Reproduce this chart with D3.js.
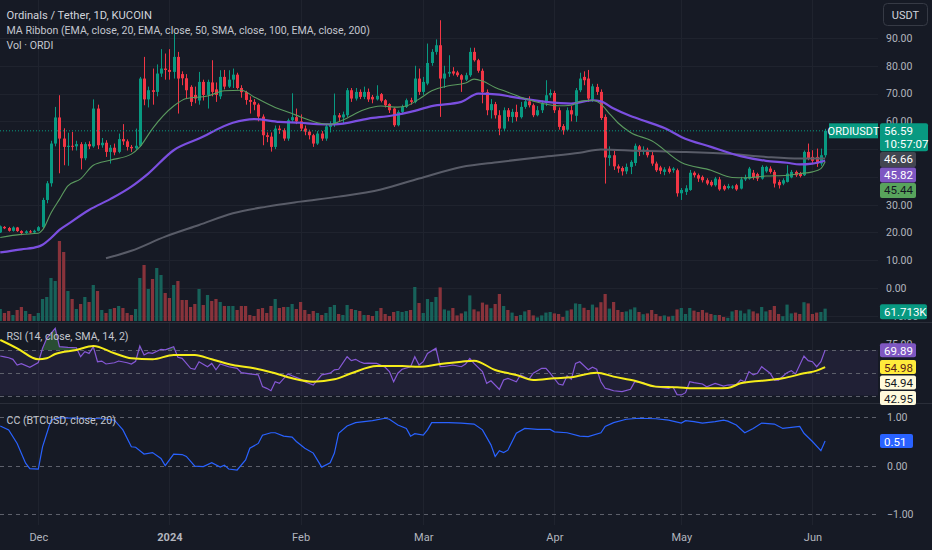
<!DOCTYPE html>
<html><head><meta charset="utf-8">
<script src="https://cdn.jsdelivr.net/npm/d3@7/dist/d3.min.js"></script>
<style>
html,body{margin:0;padding:0;background:#161a25;overflow:hidden}
svg{display:block;font-family:Roboto,"Liberation Sans",sans-serif}
</style></head><body>
<svg id="chart" width="932" height="550"></svg>
<script>
// ---------------- DATA ----------------
const firstDay = "2023-11-22"; // daily candles, one per day
const opens = [20.0,22.0,21.6,20.6,21.8,20.5,19.8,20.4,20.0,20.6,
21.9,31.7,37.7,52.0,61.4,53.8,50.8,51.2,51.0,51.8,
46.7,51.8,51.0,64.6,51.4,52.3,49.0,50.5,49.0,53.6,
52.8,50.8,50.3,51.2,75.4,67.9,71.2,70.6,77.2,79.0,
78.5,77.8,83.2,77.0,75.5,72.4,69.5,67.5,74.2,69.5,
74.0,71.5,69.0,76.0,72.5,75.0,76.8,72.0,70.5,67.7,
67.0,66.0,61.7,55.0,54.5,50.8,57.4,56.8,53.8,60.4,
61.5,60.0,57.4,56.3,55.0,52.0,55.6,53.8,58.0,58.8,
62.2,61.4,62.2,71.2,68.2,70.6,68.8,70.6,68.8,67.9,
69.8,67.6,66.2,64.6,58.6,63.4,65.2,67.6,67.0,75.4,
70.6,73.6,81.0,85.0,87.4,75.4,77.2,78.0,77.6,76.6,
75.0,76.6,85.0,82.0,78.2,70.5,64.0,66.2,62.2,57.4,
64.0,61.6,63.4,61.5,65.2,67.2,65.8,62.2,64.0,66.5,
69.4,70.2,64.0,58.3,57.0,64.0,62.0,71.2,76.0,75.4,
67.8,72.4,70.6,61.6,46.8,47.8,43.8,43.2,42.0,43.6,
45.0,51.0,49.0,49.8,47.8,44.8,43.4,41.8,43.0,42.4,
42.4,34.1,34.6,35.3,41.5,40.6,40.0,38.8,38.2,37.0,
39.1,36.7,36.0,36.2,37.0,35.8,39.1,39.4,41.5,41.0,
39.4,42.0,43.0,41.8,38.2,37.6,38.2,39.8,41.8,41.2,
40.6,49.0,47.2,47.2,44.8,47.8];
const highs = [22.5,22.3,22.0,22.2,22.0,20.8,20.8,20.9,21.0,22.3,
32.5,38.5,53.0,65.2,69.4,57.5,55.9,56.2,53.0,52.5,
52.5,52.8,67.9,66.0,54.0,53.2,51.5,52.0,55.6,59.0,
53.5,51.5,57.4,76.0,83.2,72.5,79.0,80.5,86.0,84.4,
86.0,91.6,85.0,78.0,77.0,73.0,72.5,77.8,75.0,75.0,
82.0,74.0,78.4,78.5,78.4,79.0,77.5,73.0,71.0,69.0,
68.0,66.5,62.5,56.0,56.0,58.5,58.5,57.5,61.0,70.1,
64.6,62.5,58.5,57.0,55.5,56.5,56.5,59.0,60.0,70.0,
63.0,63.5,72.0,72.0,72.0,71.5,72.5,71.8,69.5,73.0,
70.2,68.0,66.5,65.0,64.0,66.0,68.2,68.5,80.0,79.0,
76.0,88.0,86.0,89.5,96.4,80.0,83.8,79.5,78.2,77.0,
77.5,86.5,86.5,82.5,79.0,71.5,68.0,67.0,64.0,65.0,
64.8,64.5,66.0,67.0,68.0,69.0,66.4,65.5,67.5,74.8,
71.5,71.0,65.0,59.0,65.0,65.5,72.0,77.5,78.0,78.5,
73.5,73.5,71.5,62.5,51.0,49.5,44.5,43.8,44.8,46.0,
52.0,51.5,51.0,50.5,49.0,45.5,44.0,43.5,43.8,43.5,
43.0,36.0,37.0,42.5,42.0,41.2,40.5,39.5,38.8,40.0,
40.0,37.2,37.5,37.0,37.5,40.0,40.8,43.6,42.5,41.5,
44.2,44.0,43.8,42.5,39.0,39.5,44.2,42.5,42.3,41.8,
49.5,52.0,49.6,50.2,50.2,57.3];
const lows = [19.8,21.2,20.3,20.3,20.2,19.0,19.5,19.7,19.8,20.4,
21.6,30.5,36.5,51.0,41.3,44.2,44.0,49.5,49.5,42.7,
46.0,50.0,50.5,50.0,50.5,47.2,44.8,47.8,48.5,51.5,
49.5,49.0,49.8,50.8,65.8,65.0,66.0,69.0,76.0,75.0,
75.0,75.4,62.8,73.0,68.0,65.5,66.5,66.0,67.5,64.6,
69.0,67.0,68.0,71.5,72.0,72.0,71.5,68.5,66.0,62.8,
64.0,60.0,51.4,52.5,49.1,50.0,55.5,53.0,53.0,59.5,
59.0,56.5,55.0,53.5,50.8,51.5,53.0,53.0,56.0,58.0,
60.0,59.0,61.5,67.0,67.5,68.0,68.0,67.0,66.5,67.5,
66.8,65.0,63.0,58.0,58.2,62.5,64.8,66.0,66.5,69.5,
69.5,73.0,80.0,84.0,61.6,72.0,76.0,76.5,76.0,70.6,
74.5,76.0,81.5,77.5,66.5,62.2,61.0,61.0,55.0,56.5,
60.0,59.5,60.0,61.0,64.5,65.0,61.5,61.8,63.0,65.5,
68.5,63.0,57.0,55.2,56.5,60.0,59.8,70.5,73.0,67.0,
67.0,69.5,60.5,37.6,44.0,42.5,41.5,40.5,41.0,41.0,
44.0,47.5,48.0,47.0,44.0,41.8,41.0,40.6,41.2,41.5,
32.9,31.7,33.5,35.0,39.8,38.2,38.0,37.0,36.5,36.5,
35.0,35.0,35.5,35.6,35.0,35.5,38.5,39.0,39.0,38.5,
39.0,41.5,41.2,36.2,35.8,37.0,38.0,39.5,40.0,39.8,
40.3,46.0,44.8,43.6,44.0,47.0];
const closes = [22.2,21.5,20.6,21.8,20.5,19.8,20.4,20.0,20.6,21.9,
31.7,37.7,52.0,61.4,53.8,50.8,51.2,51.0,51.8,46.7,
51.8,51.0,64.6,51.4,52.3,49.0,50.5,48.8,53.6,52.8,
50.8,50.3,51.2,75.4,67.9,71.2,70.6,77.2,79.0,78.5,
77.8,83.2,75.4,75.5,71.2,67.0,68.2,74.2,69.5,74.2,
70.6,69.5,76.0,72.5,75.0,76.8,72.0,70.5,67.7,67.0,
66.0,61.7,55.0,54.4,50.8,57.4,56.8,53.8,60.4,61.5,
60.0,57.4,56.3,55.0,52.0,55.6,53.8,58.2,58.8,62.2,
61.4,62.5,71.2,68.2,70.6,68.8,70.6,67.9,67.9,69.2,
67.4,65.8,64.0,58.6,63.4,65.2,67.6,67.0,75.4,70.6,
74.2,81.0,85.0,87.4,75.4,77.2,77.8,77.2,76.6,75.0,
76.6,85.0,82.0,78.2,70.5,64.0,66.2,62.2,57.4,64.0,
61.6,63.4,61.5,65.2,67.2,65.8,62.2,64.0,66.5,69.4,
70.2,64.0,58.0,56.8,64.0,62.5,71.2,75.4,74.8,68.2,
72.6,70.6,61.2,47.0,47.8,43.8,43.0,42.0,43.6,45.4,
51.2,49.0,49.8,47.8,44.8,42.4,42.2,42.7,41.8,43.0,
34.1,35.3,35.9,41.5,40.6,39.4,38.8,37.6,37.0,39.4,
35.5,35.5,36.7,36.5,35.5,39.1,39.8,43.0,39.8,39.4,
43.6,43.6,41.8,37.6,37.0,38.8,41.2,41.8,40.6,40.3,
49.0,46.6,45.8,44.8,47.8,56.59];
const volumesK = [60,40,50,30,55,70,50,35,25,40,
110,120,215,200,400,345,150,110,60,85,
120,95,180,150,55,40,60,65,75,65,
40,30,60,215,280,160,210,265,230,140,
115,180,200,105,105,70,85,160,80,130,
100,110,95,75,75,75,55,75,75,30,
25,60,65,40,75,110,65,70,70,85,
60,95,55,35,50,40,30,40,70,80,
35,30,80,60,55,50,30,30,25,50,
65,35,25,45,50,45,50,55,170,90,
40,110,95,120,168,58,52,65,28,38,
48,128,58,48,92,82,64,85,135,75,
55,42,25,30,48,55,28,18,28,42,
45,38,35,20,52,58,88,85,66,55,
82,68,94,135,62,95,55,45,48,58,
68,45,34,38,55,35,24,28,22,26,
58,65,35,65,52,45,55,42,35,30,
30,20,16,48,55,52,38,58,48,38,
70,48,55,75,35,24,82,38,42,35,
94,88,35,42,45,61.713];

// MA ribbon (at the listed candle indices)
const ema20Idx = [0,5,9,10,12,14,16,19,22,26,31,33,36,41,44,49,53,57,60,65,69,71,75,78,81,86,90,94,96,99,102,106,110,112,114,117,120,124,128,132,135,137,140,142,144,146,149,154,161,168,173,176,181,186,189,192,194,195];
const ema20 = [18.2,19.3,19.7,20.9,27.0,31.9,36.8,39.3,44.2,46.0,48.2,50.8,57.4,65.5,68.2,69.1,71.0,71.2,68.8,65.0,62.8,61.6,59.5,58.9,60.5,64.2,65.5,65.1,65.5,68.0,71.0,72.8,73.8,75.2,74.5,72.2,70.5,68.2,66.5,65.6,65.8,67.2,67.6,66.2,62.8,59.5,56.0,53.0,45.2,42.4,39.8,39.7,40.3,40.6,41.2,41.8,43.0,45.44];
const ema50Idx = [0,5,9,10,12,14,16,21,26,31,35,41,47,55,60,66,71,75,79,87,93,97,102,109,113,118,121,129,135,140,142,145,149,153,157,161,168,175,181,186,189,192,195];
const ema50 = [12.8,13.9,14.9,15.6,18.0,20.9,23.0,28.1,32.0,36.5,41.2,49.6,53.8,59.5,60.8,59.8,59.5,59.0,58.9,61.0,62.2,63.4,65.5,67.0,70.0,69.6,68.8,67.0,66.4,67.6,67.2,64.6,61.9,59.8,57.6,54.4,50.8,47.5,45.8,45.1,44.5,44.8,45.82];
const ema200Idx = [25,31,39,47,55,63,71,80,90,99,109,118,128,137,142,151,161,173,181,189,195];
const ema200 = [10.7,13.4,18.5,22.7,26.9,29.3,31.1,32.9,35.5,39.4,43.6,45.4,47.2,48.7,49.9,49.4,49.0,48.2,47.2,46.6,46.66];

// RSI (14) and its SMA (14)
const rsiIdx = [0,1,2,3,4,5,7,9,10,11,13,14,16,18,19,20,21,22,23,24,25,27,28,30,31,32,33,34,35,36,38,39,41,42,43,45,46,47,49,50,51,52,54,56,57,59,61,62,63,64,65,66,68,69,71,72,74,76,78,79,80,82,83,84,85,86,87,89,91,92,93,94,95,97,98,99,100,101,103,104,105,107,109,110,111,112,114,115,116,118,119,120,122,123,125,126,128,129,130,132,133,134,135,136,137,139,140,141,142,143,144,145,147,149,150,152,153,155,156,158,159,160,161,162,163,164,166,167,169,171,172,174,175,176,177,178,179,180,182,183,184,186,187,188,190,191,192,193,194,195];
const rsi = [64.7,64.0,63.2,61.8,56.8,58.0,54.8,59.0,71.5,80.3,89.1,72.9,72.3,72.0,64.1,68.5,67.0,72.9,59.7,60.3,57.7,58.8,60.3,58.8,57.7,60.0,73.5,65.6,67.6,67.0,70.6,70.2,72.9,63.6,62.7,53.9,53.1,59.7,55.3,58.2,52.6,57.7,55.3,53.9,50.1,49.0,48.1,37.8,36.3,34.2,42.1,40.7,49.0,47.3,44.4,42.1,39.2,48.1,49.6,52.6,53.1,64.1,60.6,61.8,59.7,58.2,58.5,58.2,54.8,51.0,42.1,49.6,53.1,55.3,64.1,56.8,59.7,67.0,71.5,55.3,55.5,56.8,55.3,57.7,62.5,58.2,51.0,40.7,43.0,35.4,43.6,45.1,42.1,48.1,44.4,49.6,53.9,53.9,49.6,40.1,39.2,47.3,44.4,58.2,59.7,52.6,54.8,53.1,42.1,36.3,35.4,34.2,33.4,35.4,42.1,41.3,39.2,37.7,37.2,36.3,37.7,30.8,30.5,32.5,42.1,41.3,40.1,37.7,40.7,38.3,39.2,39.5,43.6,42.1,51.0,48.1,49.6,55.3,49.6,43.6,43.6,50.1,51.9,49.0,64.7,60.6,59.7,55.3,59.7,69.89];
const rsiMaIdx = [0,4,9,11,13,18,22,27,31,36,41,46,50,55,60,65,69,74,79,83,89,95,99,104,109,112,117,122,126,131,135,141,145,150,155,160,164,169,172,175,180,185,190,193,195];
const rsiMa = [78.8,71.5,61.8,62.7,66.5,70.0,73.5,67.1,62.7,61.8,65.6,65.6,61.8,56.8,53.9,49.5,45.1,42.1,44.2,49.5,55.9,55.9,55.3,57.7,59.7,60.6,52.4,48.0,43.6,45.1,46.0,50.1,46.6,43.0,37.8,37.2,36.3,36.3,36.6,40.7,43.0,45.1,49.5,51.9,54.98];
const rsiExtraTags = [54.94, 42.95];

// Correlation coefficient with BTCUSD (20)
const ccIdx = [0,2,4,6,7,9,10,12,14,19,24,27,29,31,32,34,36,38,39,41,43,44,46,48,50,52,53,54,56,58,59,61,62,64,65,67,69,70,72,74,76,78,79,80,82,84,88,91,92,94,96,97,98,100,101,102,106,109,112,114,116,117,118,119,120,122,124,127,130,131,134,137,139,142,143,145,148,151,155,158,161,162,164,166,169,171,172,174,176,178,180,183,185,189,190,192,194,195];
const cc = [0.82,0.74,0.46,0.05,-0.06,-0.07,0.39,0.94,0.99,0.98,0.97,0.94,0.74,0.39,0.38,0.24,0.27,0.15,0.0,0.24,0.23,0.19,-0.01,-0.02,0.06,-0.03,0.01,-0.07,-0.09,0.12,0.36,0.46,0.63,0.68,0.68,0.61,0.59,0.50,0.36,0.26,-0.03,0.06,0.26,0.67,0.82,0.89,0.93,0.98,0.96,0.84,0.77,0.61,0.66,0.63,0.74,0.89,0.89,0.88,0.86,0.74,0.43,0.19,0.31,0.27,0.32,0.67,0.77,0.75,0.75,0.70,0.68,0.61,0.60,0.68,0.81,0.89,0.96,0.98,0.97,0.94,0.88,0.93,0.91,0.88,0.91,0.94,0.92,0.84,0.68,0.77,0.88,0.86,0.77,0.81,0.67,0.50,0.31,0.51];

// axis ticks
const monthTicks = ["2023-12-01","2024-01-01","2024-02-01","2024-03-01","2024-04-01","2024-05-01","2024-06-01"];
const monthLabels = ["Dec","2024","Feb","Mar","Apr","May","Jun"];
const priceGrid = [-10,0,10,20,30,40,50,60,70,80,90];
const priceTicks = [90,80,70,60,30,20,10,0,-10];
const rsiTicks = [75];
const rsiLevels = [70,50,30];
const ccTicks = [1,0,-1];

// ---------------- CHART ----------------
const W = 932, H = 550, PR = 878, DAY = 864e5;
const parse = d3.utcParse("%Y-%m-%d");
const t0 = parse(firstDay);
const dates = closes.map((_, i) => d3.utcDay.offset(t0, i));
const dAt = i => dates[i];
const f2 = d3.format(".2f");

const x = d3.scaleUtc().domain([new Date(+t0 - 0.0544 * DAY), new Date(+t0 + 207.5 * DAY)]).range([0, PR]);
const y = d3.scaleLinear().domain([-10, 90]).range([315.8, 38]);
const yV = d3.scaleLinear().domain([0, 400]).range([321, 241]);
const yR = d3.scaleLinear().domain([30, 70]).range([395.5, 350]);
const yC = d3.scaleLinear().domain([-1, 1]).range([514, 417.3]);

const UP = "#089981", DN = "#f23645";
const svg = d3.select("#chart");
svg.append("rect").attr("width", W).attr("height", H).attr("fill", "#161a25");

const defs = svg.append("defs");
defs.append("clipPath").attr("id", "cpPrice").append("rect").attr("x", 0).attr("y", 0).attr("width", PR).attr("height", 322);
defs.append("clipPath").attr("id", "cpPriceAxis").append("rect").attr("x", PR).attr("y", 0).attr("width", W - PR).attr("height", 322);
defs.append("clipPath").attr("id", "cpRsi").append("rect").attr("x", 0).attr("y", 323).attr("width", PR).attr("height", 80);
defs.append("clipPath").attr("id", "cpRsiAxis").append("rect").attr("x", PR).attr("y", 323).attr("width", W - PR).attr("height", 80);
defs.append("clipPath").attr("id", "cpOb").append("rect").attr("x", 0).attr("y", 323).attr("width", PR).attr("height", yR(70) - 323);
defs.append("clipPath").attr("id", "cpCc").append("rect").attr("x", 0).attr("y", 404).attr("width", PR).attr("height", 120);

// grid
const grid = svg.append("g").attr("stroke", "#1f232e").attr("stroke-width", 1);
grid.selectAll("line.h").data(priceGrid).join("line")
  .attr("x1", 0).attr("x2", PR).attr("y1", d => Math.round(y(d)) + 0.5).attr("y2", d => Math.round(y(d)) + 0.5);
grid.selectAll("line.v").data(monthTicks).join("line")
  .attr("x1", d => Math.round(x(parse(d))) + 0.5).attr("x2", d => Math.round(x(parse(d))) + 0.5)
  .attr("y1", 0).attr("y2", 525);

// pane separators
svg.append("g").attr("stroke", "#2a2e39").selectAll("line").data([322.5, 403.5]).join("line")
  .attr("x1", 0).attr("x2", W).attr("y1", d => d).attr("y2", d => d);

// ---- price pane ----
const price = svg.append("g").attr("clip-path", "url(#cpPrice)");
const idx = d3.range(closes.length);

// volume
price.append("g").selectAll("rect").data(idx).join("rect")
  .attr("x", i => x(dAt(i)) - 1.6).attr("width", 3.2)
  .attr("y", i => yV(volumesK[i])).attr("height", i => yV(0) - yV(volumesK[i]))
  .attr("fill", i => closes[i] >= opens[i] ? "#17625a" : "#88333b");

// candles
const cg = price.append("g");
cg.selectAll("line").data(idx).join("line")
  .attr("x1", i => Math.round(x(dAt(i))) + 0.5).attr("x2", i => Math.round(x(dAt(i))) + 0.5)
  .attr("y1", i => y(highs[i])).attr("y2", i => y(lows[i]))
  .attr("stroke", i => closes[i] >= opens[i] ? UP : DN).attr("stroke-width", 1);
cg.selectAll("rect").data(idx).join("rect")
  .attr("x", i => Math.round(x(dAt(i))) - 1).attr("width", 3)
  .attr("y", i => y(Math.max(opens[i], closes[i])))
  .attr("height", i => Math.max(1, Math.abs(y(opens[i]) - y(closes[i]))))
  .attr("fill", i => closes[i] >= opens[i] ? UP : DN);

// MA ribbon
function maLine(ix, vals, color, w) {
  const pts = ix.map((k, j) => [x(dAt(k)), y(vals[j])]);
  price.append("path").attr("d", d3.line().curve(d3.curveMonotoneX)(pts))
    .attr("fill", "none").attr("stroke", color).attr("stroke-width", w);
}
maLine(ema200Idx, ema200, "#595c68", 2);
maLine(ema50Idx, ema50, "#7b4fe0", 2.2);
maLine(ema20Idx, ema20, "#5b9a5f", 1.1);

// last price dotted line
const lastC = closes[closes.length - 1];
price.append("line").attr("x1", 0).attr("x2", PR).attr("y1", y(lastC)).attr("y2", y(lastC))
  .attr("stroke", UP).attr("stroke-width", 1).attr("stroke-dasharray", "1,2");

// ---- RSI pane ----
const rp = svg.append("g").attr("clip-path", "url(#cpRsi)");
rp.append("rect").attr("x", 0).attr("width", PR).attr("y", yR(70)).attr("height", yR(30) - yR(70))
  .attr("fill", "rgba(126,87,194,0.10)");
rp.selectAll("line.lvl").data(rsiLevels).join("line")
  .attr("x1", 0).attr("x2", PR).attr("y1", d => Math.round(yR(d)) + 0.5).attr("y2", d => Math.round(yR(d)) + 0.5)
  .attr("stroke", "#5d606b").attr("stroke-dasharray", "4,4");
const rsiPts = rsiIdx.map((k, j) => [x(dAt(k)), yR(rsi[j])]);
rp.append("path").attr("clip-path", "url(#cpOb)")
  .attr("d", d3.area().x(d => d[0]).y0(yR(70)).y1(d => d[1])(rsiPts))
  .attr("fill", "rgba(76,175,80,0.35)");
rp.append("path").attr("d", d3.line()(rsiPts)).attr("fill", "none").attr("stroke", "#8658d6").attr("stroke-width", 1.2);
const rsiMaPts = rsiMaIdx.map((k, j) => [x(dAt(k)), yR(rsiMa[j])]);
rp.append("path").attr("d", d3.line().curve(d3.curveMonotoneX)(rsiMaPts)).attr("fill", "none")
  .attr("stroke", "#f5ec1a").attr("stroke-width", 2);

// ---- CC pane ----
const cp = svg.append("g").attr("clip-path", "url(#cpCc)");
cp.selectAll("line").data(ccTicks).join("line")
  .attr("x1", 0).attr("x2", PR).attr("y1", d => Math.round(yC(d)) + 0.5).attr("y2", d => Math.round(yC(d)) + 0.5)
  .attr("stroke", "#5d606b").attr("stroke-dasharray", "4,4");
const ccPts = ccIdx.map((k, j) => [x(dAt(k)), yC(cc[j])]);
cp.append("path").attr("d", d3.line()(ccPts)).attr("fill", "none").attr("stroke", "#2962ff").attr("stroke-width", 1.2);

// ---- axes ----
function styleAxis(g) {
  g.select(".domain").remove();
  g.selectAll("line").remove();
  g.selectAll("text").attr("fill", "#b2b5be").attr("font-size", 10.5).attr("font-family", "Roboto");
}
svg.append("g").attr("clip-path", "url(#cpPriceAxis)").append("g").attr("transform", "translate(886,0)")
  .call(d3.axisRight(y).tickValues(priceTicks).tickFormat(f2).tickSize(0).tickPadding(0)).call(styleAxis);
svg.append("g").attr("clip-path", "url(#cpRsiAxis)").append("g").attr("transform", "translate(886,0)")
  .call(d3.axisRight(yR).tickValues(rsiTicks).tickFormat(f2).tickSize(0).tickPadding(0)).call(styleAxis);
svg.append("g").attr("transform", "translate(887,0)")
  .call(d3.axisRight(yC).tickValues(ccTicks).tickFormat(f2).tickSize(0).tickPadding(0)).call(styleAxis);
const xa = svg.append("g").attr("transform", "translate(0,530)")
  .call(d3.axisBottom(x).tickValues(monthTicks.map(parse)).tickFormat((d, i) => monthLabels[i]).tickSize(0).tickPadding(3))
  .call(styleAxis);
xa.selectAll("text").attr("font-size", 11).attr("font-weight", (d, i) => monthLabels[i] === "2024" ? "bold" : null);

// ---- value labels (stacked like the price scale does) ----
function tag(x0, yc, w, h, bg, lines, color, size) {
  const g = svg.append("g");
  g.append("rect").attr("x", x0).attr("y", yc - h / 2).attr("width", w).attr("height", h).attr("rx", 2).attr("fill", bg);
  lines.forEach((t, k) => {
    g.append("text").attr("x", x0 + 4).attr("y", yc - h / 2 + 7.5 + k * 13).attr("dy", "0.35em")
      .attr("fill", color).attr("font-size", size || 11).text(t);
  });
}
const lastMA = [ema200[ema200.length - 1], ema50[ema50.length - 1], ema20[ema20.length - 1]];
tag(880, y(lastC) + 6.5, 48, 28, UP, [f2(lastC), "10:57:07"], "#ffffff", 11.5);
const maTop = y(lastMA[0]) + 1;
tag(880, maTop, 36, 15, "#434651", [f2(lastMA[0])], "#ffffff", 11.5);
tag(880, maTop + 15.5, 36, 15, "#7e57c2", [f2(lastMA[1])], "#ffffff", 11.5);
tag(880, maTop + 31, 36, 15, "#58a45c", [f2(lastMA[2])], "#131722", 11.5);
tag(880, yV(volumesK[volumesK.length - 1]) + 3, 47, 15, UP, [d3.format(".3f")(volumesK[volumesK.length - 1]) + "K"], "#ffffff", 11.5);
// symbol label
svg.append("rect").attr("x", 829).attr("y", y(lastC) - 7.5).attr("width", 49).attr("height", 15).attr("fill", UP);
svg.append("text").attr("x", 853.5).attr("y", y(lastC)).attr("dy", "0.35em").attr("text-anchor", "middle")
  .attr("fill", "#ffffff").attr("font-size", 11).text("ORDIUSDT");

// RSI tags
const rTop = yR(rsi[rsi.length - 1]);
tag(880, rTop, 36, 14, "#7e57c2", [f2(rsi[rsi.length - 1])], "#ffffff", 11.5);
tag(880, yR(rsiMa[rsiMa.length - 1]), 36, 14, "#ffeb3b", [f2(rsiMa[rsiMa.length - 1])], "#5a1a1a", 11.5);
tag(880, yR(rsiMa[rsiMa.length - 1]) + 15.5, 36, 14, "#fff9db", [f2(rsiExtraTags[0])], "#131722", 11.5);
tag(880, yR(rsiMa[rsiMa.length - 1]) + 31, 36, 14, "#fff9db", [f2(rsiExtraTags[1])], "#131722", 11.5);
// CC tag
tag(880, yC(cc[cc.length - 1]), 33, 14, "#2962ff", [f2(cc[cc.length - 1])], "#ffffff", 11.5);

// currency box
svg.append("rect").attr("x", 883.5).attr("y", 3.5).attr("width", 44).attr("height", 22).attr("rx", 4)
  .attr("fill", "none").attr("stroke", "#363a45");
svg.append("text").attr("x", 905.5).attr("y", 15).attr("dy", "0.35em").attr("text-anchor", "middle")
  .attr("fill", "#d1d4dc").attr("font-size", 11).text("USDT");

// legends
const leg = [
  [15, "Ordinals / Tether, 1D, KUCOIN", 11.2, "#d1d4dc"],
  [30.5, "MA Ribbon (EMA, close, 20, EMA, close, 50, SMA, close, 100, EMA, close, 200)", 10.6, "#c3c6ce"],
  [45.5, "Vol · ORDI", 10.6, "#c3c6ce"],
  [336, "RSI (14, close, SMA, 14, 2)", 10.6, "#c3c6ce"],
  [420, "CC (BTCUSD, close, 20)", 10.6, "#c3c6ce"]
];
leg.forEach(([yy, t, s, c]) => {
  svg.append("text").attr("x", 6.5).attr("y", yy).attr("dy", "0.35em").attr("fill", c).attr("font-size", s).text(t);
});
</script>
</body></html>
